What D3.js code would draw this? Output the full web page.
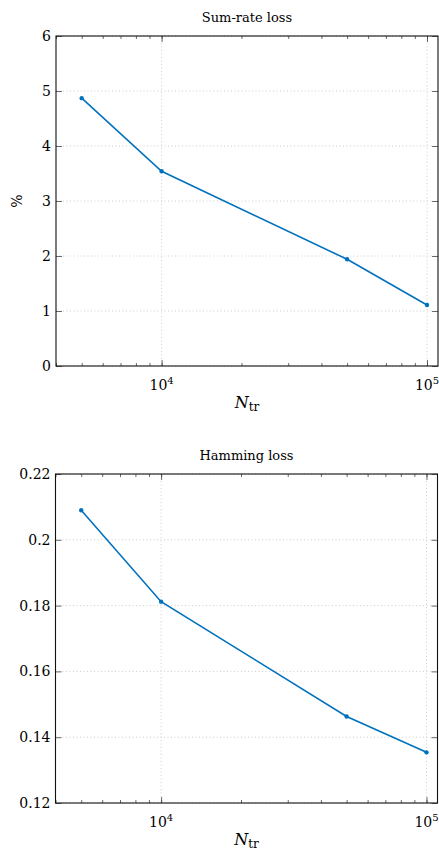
<!DOCTYPE html>
<html><head><meta charset="utf-8">
<script src="https://cdn.jsdelivr.net/npm/d3@7"></script>
<style>
body{margin:0;background:#fff;}
svg text{font-family:"DejaVu Serif","Liberation Serif",serif;fill:#000;}
</style></head><body>
<svg id="c" width="439" height="850"></svg>
<script>
const trainSizes = [5000, 10000, 50000, 100000];
const sumRateLoss = [4.87, 3.54, 1.94, 1.11];
const hammingLoss = [0.209, 0.1812, 0.1463, 0.1354];
const xTickValues = [10000, 100000];
const xTickLabels = ["4", "5"];
const sumRateTicks = [0, 1, 2, 3, 4, 5, 6];
const sumRateTickLabels = ["0", "1", "2", "3", "4", "5", "6"];
const hammingTicks = [0.12, 0.14, 0.16, 0.18, 0.2, 0.22];
const hammingTickLabels = ["0.12", "0.14", "0.16", "0.18", "0.2", "0.22"];

const svg = d3.select("#c");
const color = "#0072BD";

function panel(cfg) {
  const {top, bottom, left, right, yDomain, yTicks, yLabels, values, title, ylabel} = cfg;
  const x = d3.scaleLog().domain([4000, 110000]).range([left, right]);
  const y = d3.scaleLinear().domain(yDomain).range([bottom, top]);
  const g = svg.append("g");

  const minor = [];
  for (let d = 1000; d <= 100000; d *= 10)
    for (let k = 1; k <= 9; k++) { const v = k * d; if (v >= 4000 && v <= 110000) minor.push(v); }

  // grid
  g.append("g").selectAll("line").data(xTickValues).join("line")
    .attr("x1", d => x(d)).attr("x2", d => x(d)).attr("y1", top).attr("y2", bottom)
    .attr("stroke", "#c8c8c8").attr("stroke-width", 0.9).attr("stroke-dasharray", "1,2.5");
  g.append("g").selectAll("line").data(yTicks).join("line")
    .attr("x1", left).attr("x2", right).attr("y1", d => y(d)).attr("y2", d => y(d))
    .attr("stroke", "#c8c8c8").attr("stroke-width", 0.9).attr("stroke-dasharray", "1,2.5");

  const ax = g.append("g").attr("transform", `translate(0,${bottom})`)
    .call(d3.axisBottom(x).tickValues(minor).tickSize(-3).tickFormat(""));
  const axTop = g.append("g").attr("transform", `translate(0,${top})`)
    .call(d3.axisTop(x).tickValues(minor).tickSize(-3).tickFormat(""));
  const axMajB = g.append("g").attr("transform", `translate(0,${bottom})`)
    .call(d3.axisBottom(x).tickValues(xTickValues).tickSize(-6).tickFormat(""));
  const axMajT = g.append("g").attr("transform", `translate(0,${top})`)
    .call(d3.axisTop(x).tickValues(xTickValues).tickSize(-6).tickFormat(""));
  const ayL = g.append("g").attr("transform", `translate(${left},0)`)
    .call(d3.axisLeft(y).tickValues(yTicks).tickSize(-6).tickFormat(""));
  const ayR = g.append("g").attr("transform", `translate(${right},0)`)
    .call(d3.axisRight(y).tickValues(yTicks).tickSize(-6).tickFormat(""));
  [ax, axTop, axMajB, axMajT, ayL, ayR].forEach(a => {
    a.selectAll(".domain").remove();
    a.selectAll("line").attr("stroke", "#444").attr("stroke-width", 0.8);
  });
  g.append("rect").attr("x", left).attr("y", top).attr("width", right - left).attr("height", bottom - top)
    .attr("fill", "none").attr("stroke", "#111").attr("stroke-width", 1.1);

  g.append("g").selectAll("text").data(yTicks).join("text")
    .attr("x", left - 5).attr("y", d => y(d) + 5).attr("text-anchor", "end")
    .attr("font-size", 14).text((d, i) => yLabels[i]);
  const xl = g.append("g").selectAll("text").data(xTickValues).join("text")
    .attr("x", d => x(d)).attr("y", bottom + 24).attr("text-anchor", "middle").attr("font-size", 14);
  xl.append("tspan").text("10");
  xl.append("tspan").attr("dy", -6).attr("font-size", 10).text((d, i) => xTickLabels[i]);

  const xlab = g.append("text").attr("x", (left + right) / 2).attr("y", bottom + 42)
    .attr("text-anchor", "middle").attr("font-size", 16);
  xlab.append("tspan").attr("font-style", "italic").text("N");
  xlab.append("tspan").attr("dy", 3).attr("font-size", 12).text("tr");

  g.append("text").attr("x", (left + right) / 2).attr("y", top - 14).attr("text-anchor", "middle")
    .attr("font-size", 13).text(title);
  if (ylabel) {
    g.append("text").attr("transform", `translate(22,${(top + bottom) / 2}) rotate(-90)`)
      .attr("text-anchor", "middle").attr("font-size", 14).text(ylabel);
  }

  const pts = trainSizes.map((d, i) => [d, values[i]]);
  g.append("path").datum(pts).attr("fill", "none").attr("stroke", color).attr("stroke-width", 1.6)
    .attr("d", d3.line().x(d => x(d[0])).y(d => y(d[1])));
  g.append("g").selectAll("circle").data(pts).join("circle")
    .attr("cx", d => x(d[0])).attr("cy", d => y(d[1])).attr("r", 2.2).attr("fill", color);
}

panel({top: 36, bottom: 366, left: 56, right: 438, yDomain: [0, 6], yTicks: sumRateTicks,
  yLabels: sumRateTickLabels, values: sumRateLoss, title: "Sum-rate loss", ylabel: "%"});
panel({top: 474, bottom: 803, left: 55.5, right: 437.5, yDomain: [0.12, 0.22], yTicks: hammingTicks,
  yLabels: hammingTickLabels, values: hammingLoss, title: "Hamming loss", ylabel: null});
</script>
</body></html>
